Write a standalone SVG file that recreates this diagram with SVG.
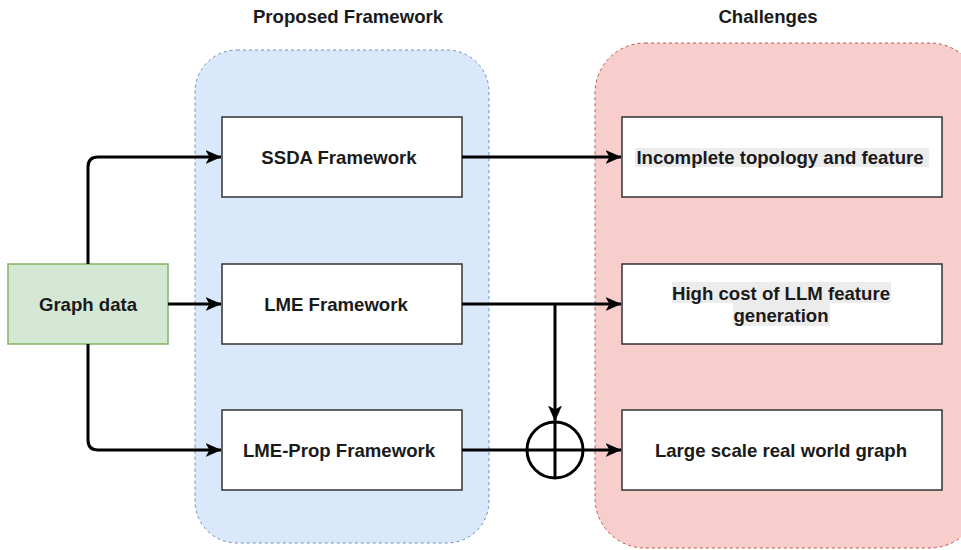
<svg xmlns="http://www.w3.org/2000/svg" width="961" height="550" viewBox="0 0 961 550">
<style>
text{font-family:"Liberation Sans",Arial,sans-serif;font-weight:bold;font-size:18.6px;fill:#1a1a1a;text-anchor:middle;dominant-baseline:central}
.box{fill:#fff;stroke:#333;stroke-width:1.5}
.conn{fill:none;stroke:#000;stroke-width:3}
.hl{fill:#ececec}
</style>
<defs>
<marker id="arr" viewBox="0 0 16 14" refX="15.5" refY="7" markerWidth="16" markerHeight="14" markerUnits="userSpaceOnUse" orient="auto">
<path d="M0,0 L16,7 L0,14 L4,7 Z" fill="#000"/>
</marker>
</defs>
<rect width="961" height="550" fill="#fff"/>
<g id="proposed">
<rect x="195" y="50" width="294" height="493" rx="42" fill="#dae8fc" stroke="#6c8ebf" stroke-dasharray="3 3"/>
<text x="348" y="16">Proposed Framework</text>
</g>
<g id="challenges">
<rect x="595" y="43" width="385" height="505" rx="50" fill="#f8cecc" stroke="#b85450" stroke-dasharray="3 3"/>
<text x="768" y="16">Challenges</text>
</g>
<g id="graph-data">
<rect x="8" y="264" width="160" height="80" fill="#d5e8d4" stroke="#82b366" stroke-width="1.5"/>
<text x="88" y="304">Graph data</text>
</g>
<g id="ssda">
<rect class="box" x="222" y="117" width="240" height="80"/>
<text x="339" y="157">SSDA Framework</text>
</g>
<g id="lme">
<rect class="box" x="222" y="264" width="240" height="80"/>
<text x="336" y="304">LME Framework</text>
</g>
<g id="lmeprop">
<rect class="box" x="222" y="410" width="240" height="80"/>
<text x="339" y="450">LME-Prop Framework</text>
</g>
<g id="incomplete">
<rect class="box" x="622" y="117" width="320" height="80"/>
<rect class="hl" x="635" y="148" width="294" height="19"/>
<text x="780" y="157">Incomplete topology and feature</text>
</g>
<g id="highcost">
<rect class="box" x="622" y="264" width="320" height="80"/>
<rect class="hl" x="672" y="282" width="219" height="21"/>
<rect class="hl" x="733" y="303" width="97" height="23"/>
<text x="781" y="293">High cost of LLM feature</text>
<text x="781" y="315">generation</text>
</g>
<g id="largescale">
<rect class="box" x="622" y="410" width="320" height="80"/>
<text x="781" y="450">Large scale real world graph</text>
</g>
<g id="connectors">
<path class="conn" d="M88,264 L88,167 Q88,157 98,157 L221,157" marker-end="url(#arr)"/>
<path class="conn" d="M168,304 L221,304" marker-end="url(#arr)"/>
<path class="conn" d="M88,344 L88,440 Q88,450 98,450 L221,450" marker-end="url(#arr)"/>
<path class="conn" d="M462,157 L621,157" marker-end="url(#arr)"/>
<path class="conn" d="M462,304 L621,304" marker-end="url(#arr)"/>
<path class="conn" d="M555,304 L555,421" marker-end="url(#arr)"/>
<path class="conn" d="M462,450 L621,450" marker-end="url(#arr)"/>
<circle class="conn" cx="555" cy="450" r="28"/>
<path class="conn" d="M555,422 L555,478"/>
</g>
</svg>
